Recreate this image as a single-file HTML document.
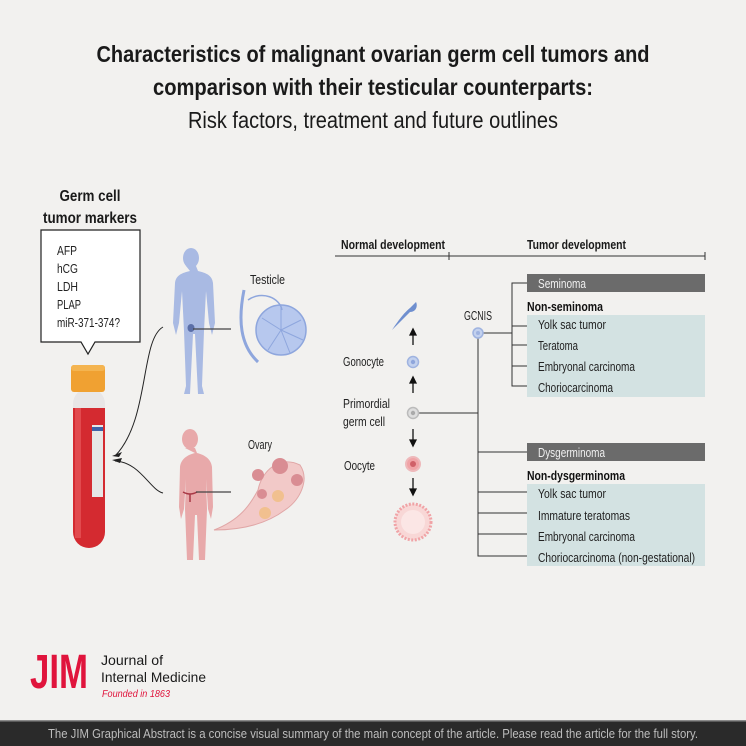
<!DOCTYPE html>
<html><head><meta charset="utf-8"><style>
html,body{margin:0;padding:0;background:#f2f1ef}
svg{display:block}
text{font-family:"Liberation Sans Narrow","Liberation Sans",sans-serif}
</style></head><body>
<svg width="746" height="746" viewBox="0 0 746 746" xmlns="http://www.w3.org/2000/svg">
<rect width="746" height="746" fill="#f2f1ef"/>
<!-- titles -->
<text x="373" y="62" text-anchor="middle" font-size="23" font-weight="bold" fill="#1a1a1a" textLength="553" lengthAdjust="spacingAndGlyphs">Characteristics of malignant ovarian germ cell tumors and</text>
<text x="373" y="95" text-anchor="middle" font-size="23" font-weight="bold" fill="#1a1a1a" textLength="440" lengthAdjust="spacingAndGlyphs">comparison with their testicular counterparts:</text>
<text x="373" y="128" text-anchor="middle" font-size="23" fill="#1a1a1a" textLength="370" lengthAdjust="spacingAndGlyphs">Risk factors, treatment and future outlines</text>

<!-- markers -->
<text x="90" y="201" text-anchor="middle" font-size="16" font-weight="bold" fill="#1a1a1a" textLength="61" lengthAdjust="spacingAndGlyphs">Germ cell</text>
<text x="90" y="223" text-anchor="middle" font-size="16" font-weight="bold" fill="#1a1a1a" textLength="94" lengthAdjust="spacingAndGlyphs">tumor markers</text>
<path d="M41 230 H140 V342 H95 L88 354 L81 342 H41 Z" fill="#fff" stroke="#222" stroke-width="1.2"/>
<g font-size="12.5" fill="#222">
<text x="57" y="255" textLength="20" lengthAdjust="spacingAndGlyphs">AFP</text>
<text x="57" y="273" textLength="21" lengthAdjust="spacingAndGlyphs">hCG</text>
<text x="57" y="291" textLength="21" lengthAdjust="spacingAndGlyphs">LDH</text>
<text x="57" y="309" textLength="24" lengthAdjust="spacingAndGlyphs">PLAP</text>
<text x="57" y="327" textLength="63" lengthAdjust="spacingAndGlyphs">miR-371-374?</text>
</g>
<!-- tube -->
<rect x="73" y="388" width="32" height="160" rx="16" fill="#e8e6e6"/>
<path d="M73 408 H105 V532 A16 16 0 0 1 73 532 Z" fill="#d42a30"/>
<rect x="75" y="408" width="6" height="130" fill="#e24a4e"/>
<rect x="92" y="425" width="11" height="72" fill="#e6e6e6"/>
<rect x="92" y="427" width="11" height="4" fill="#3f62a8"/>
<rect x="71" y="365" width="34" height="27" rx="3" fill="#f0a132"/>
<rect x="71" y="365" width="34" height="6" rx="3" fill="#f4b450"/>
<!-- arrows to tube -->
<path d="M163 327 C140 340 150 420 115 456" fill="none" stroke="#222" stroke-width="1"/>
<path d="M163 493 C150 490 140 462 115 461" fill="none" stroke="#222" stroke-width="1"/>
<path d="M112 456 l10 -4 l-3 5z M112 460 l10 -2 l-2 5z" fill="#222"/>

<!-- male -->
<g fill="#a9bae3">
<ellipse cx="191" cy="258" rx="8" ry="10"/>
<path d="M186 266 h10 l2 5 c8 2 14 4 15 12 l2 40 l-3 12 l-3 -12 l-3 -32 l-2 40 l-2 55 l2 8 h-6 l-3 -60 l-2 0 l-3 60 h-6 l2 -8 l-2 -55 l-2 -40 l-3 32 l-3 12 l-3 -12 l2 -40 c1 -8 7 -10 15 -12z"/>
</g>
<ellipse cx="191" cy="328" rx="3.5" ry="4" fill="#5b6fa8"/>
<line x1="193" y1="329" x2="231" y2="329" stroke="#444" stroke-width="1.2"/>
<text x="250" y="284" font-size="13" fill="#222" textLength="35" lengthAdjust="spacingAndGlyphs">Testicle</text>
<g fill="#b7c8ee" stroke="#8ea6dd" stroke-width="1.5">
<circle cx="281" cy="330" r="25"/>
<path d="M244 290 C238 320 240 345 258 362" fill="none" stroke-width="3"/>
<path d="M248 300 C262 290 280 298 282 310" fill="none"/>
</g>
<g stroke="#8ea6dd" stroke-width="1">
<line x1="281" y1="330" x2="281" y2="306"/><line x1="281" y1="330" x2="301" y2="320"/><line x1="281" y1="330" x2="303" y2="340"/><line x1="281" y1="330" x2="290" y2="353"/><line x1="281" y1="330" x2="268" y2="350"/><line x1="281" y1="330" x2="262" y2="318"/>
</g>

<!-- female -->
<g fill="#e8a9aa">
<ellipse cx="190" cy="439" rx="8" ry="10"/>
<path d="M185 448 h10 l2 5 c8 2 14 6 15 14 l1 40 l-2 12 l-3 -10 l-2 -30 l1 30 l-2 51 h-6 l-2 -45 l-2 0 l-2 45 h-6 l-2 -51 l1 -30 l-2 30 l-3 10 l-2 -12 l1 -40 c1 -8 7 -12 15 -14z"/>
</g>
<path d="M183 492 q7 4 14 0 M190 494 v8" stroke="#a83845" stroke-width="1.5" fill="none"/>
<line x1="196" y1="492" x2="231" y2="492" stroke="#444" stroke-width="1.2"/>
<text x="248" y="449" font-size="13" fill="#222" textLength="24" lengthAdjust="spacingAndGlyphs">Ovary</text>
<path d="M214 530 C240 520 250 505 258 490 C262 470 280 455 300 465 C310 480 300 500 285 510 C265 525 240 530 214 530 Z" fill="#f2c9c8" stroke="#e0a6a6"/>
<g fill="#d98d93">
<circle cx="258" cy="475" r="6"/><circle cx="280" cy="466" r="8"/><circle cx="262" cy="494" r="5"/><circle cx="297" cy="480" r="6"/><circle cx="278" cy="496" r="6" fill="#f1c08f"/><circle cx="265" cy="513" r="6" fill="#f1c08f"/>
</g>

<!-- right side -->
<text x="341" y="249" font-size="13" font-weight="bold" fill="#1a1a1a" textLength="104" lengthAdjust="spacingAndGlyphs">Normal development</text>
<text x="527" y="249" font-size="13" font-weight="bold" fill="#1a1a1a" textLength="99" lengthAdjust="spacingAndGlyphs">Tumor development</text>
<g stroke="#333" stroke-width="1" fill="none">
<line x1="335" y1="256" x2="705" y2="256"/><line x1="449" y1="252" x2="449" y2="260"/><line x1="705" y1="252" x2="705" y2="260"/>
</g>
<rect x="527" y="274" width="178" height="18" fill="#6b6b6b"/>
<text x="538" y="288" font-size="12.5" fill="#f0f0f0" textLength="48" lengthAdjust="spacingAndGlyphs">Seminoma</text>
<text x="527" y="311" font-size="13" font-weight="bold" fill="#111" textLength="76" lengthAdjust="spacingAndGlyphs">Non-seminoma</text>
<rect x="527" y="315" width="178" height="82" fill="#d3e2e2"/>
<g font-size="12.5" fill="#222">
<text x="538" y="329" textLength="68" lengthAdjust="spacingAndGlyphs">Yolk sac tumor</text>
<text x="538" y="350" textLength="40" lengthAdjust="spacingAndGlyphs">Teratoma</text>
<text x="538" y="371" textLength="97" lengthAdjust="spacingAndGlyphs">Embryonal carcinoma</text>
<text x="538" y="392" textLength="75" lengthAdjust="spacingAndGlyphs">Choriocarcinoma</text>
</g>
<rect x="527" y="443" width="178" height="18" fill="#6b6b6b"/>
<text x="538" y="457" font-size="12.5" fill="#f0f0f0" textLength="67" lengthAdjust="spacingAndGlyphs">Dysgerminoma</text>
<text x="527" y="480" font-size="13" font-weight="bold" fill="#111" textLength="98" lengthAdjust="spacingAndGlyphs">Non-dysgerminoma</text>
<rect x="527" y="484" width="178" height="82" fill="#d3e2e2"/>
<g font-size="12.5" fill="#222">
<text x="538" y="498" textLength="68" lengthAdjust="spacingAndGlyphs">Yolk sac tumor</text>
<text x="538" y="520" textLength="92" lengthAdjust="spacingAndGlyphs">Immature teratomas</text>
<text x="538" y="541" textLength="97" lengthAdjust="spacingAndGlyphs">Embryonal carcinoma</text>
<text x="538" y="562" textLength="157" lengthAdjust="spacingAndGlyphs">Choriocarcinoma (non-gestational)</text>
</g>
<g stroke="#333" stroke-width="1" fill="none">
<path d="M527 283 H512 V386 H527 M512 326 H527 M512 345 H527 M512 366 H527"/>
<path d="M483 333 H512"/>
<path d="M478 338 V556 H527 M478 452 H527 M478 492 H527 M478 513 H527 M478 534 H527"/>
<path d="M418 413 H478"/>
</g>
<text x="478" y="320" text-anchor="middle" font-size="12.5" fill="#222" textLength="28" lengthAdjust="spacingAndGlyphs">GCNIS</text>
<circle cx="478" cy="333" r="5" fill="#c3d1ee" stroke="#9fb3e0" stroke-width="1.5"/><circle cx="478" cy="333" r="2" fill="#9fb3e0"/>
<!-- normal column -->
<path d="M392 330 C400 318 405 312 410 308 L416 302 C418 306 416 312 410 312 L394 328Z" fill="#6f8fcf"/>
<g stroke="#111" stroke-width="1.3" fill="#111">
<line x1="413" y1="345" x2="413" y2="333"/><path d="M410 335 L413 329 L416 335Z"/>
<line x1="413" y1="393" x2="413" y2="381"/><path d="M410 383 L413 377 L416 383Z"/>
<line x1="413" y1="429" x2="413" y2="441"/><path d="M410 440 L413 446 L416 440Z"/>
<line x1="413" y1="478" x2="413" y2="490"/><path d="M410 489 L413 495 L416 489Z"/>
</g>
<circle cx="413" cy="362" r="5.5" fill="#c3d1ee" stroke="#9fb3e0" stroke-width="1.5"/><circle cx="413" cy="362" r="2.2" fill="#8fa6dc"/>
<circle cx="413" cy="413" r="5.5" fill="#dedede" stroke="#bbb" stroke-width="1.5"/><circle cx="413" cy="413" r="2.2" fill="#aaa"/>
<circle cx="413" cy="464" r="7" fill="#f0a3a6" stroke="#eeb8ba" stroke-width="2"/><circle cx="413" cy="464" r="3" fill="#d06068"/>
<circle cx="413" cy="522" r="18" fill="#f8d7d6" stroke="#f0a3a6" stroke-width="3" stroke-dasharray="2 1.5"/><circle cx="413" cy="522" r="12" fill="#fbe6e5"/>
<g font-size="12.5" fill="#222">
<text x="343" y="366" textLength="41" lengthAdjust="spacingAndGlyphs">Gonocyte</text>
<text x="343" y="408" textLength="47" lengthAdjust="spacingAndGlyphs">Primordial</text>
<text x="343" y="426" textLength="42" lengthAdjust="spacingAndGlyphs">germ cell</text>
<text x="344" y="470" textLength="31" lengthAdjust="spacingAndGlyphs">Oocyte</text>
</g>
<!-- logo -->
<text x="30" y="688" font-size="48" font-weight="bold" fill="#e0143c" textLength="58" lengthAdjust="spacingAndGlyphs">JIM</text>
<text x="101" y="665" font-size="14" fill="#1a1a1a" textLength="62" lengthAdjust="spacingAndGlyphs">Journal of</text>
<text x="101" y="682" font-size="14" fill="#1a1a1a" textLength="105" lengthAdjust="spacingAndGlyphs">Internal Medicine</text>
<text x="102" y="697" font-size="10.5" font-style="italic" fill="#e0143c" textLength="68" lengthAdjust="spacingAndGlyphs">Founded in 1863</text>
<!-- footer -->
<rect x="0" y="721" width="746" height="25" fill="#2a2a2a"/>
<rect x="0" y="720" width="746" height="1.5" fill="#8a8a8a"/>
<text x="373" y="738" text-anchor="middle" font-size="12.5" fill="#bdbdbd" textLength="650" lengthAdjust="spacingAndGlyphs">The JIM Graphical Abstract is a concise visual summary of the main concept of the article. Please read the article for the full story.</text>
</svg>
</body></html>
